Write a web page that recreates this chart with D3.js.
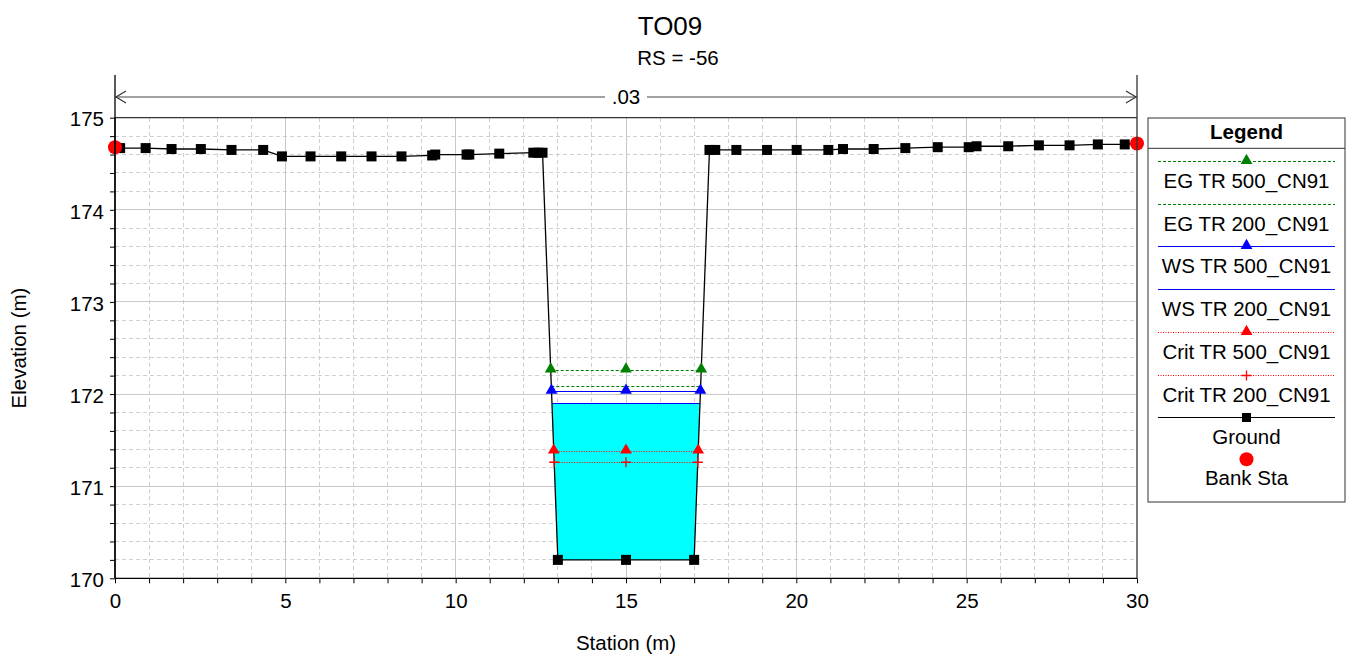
<!DOCTYPE html>
<html><head><meta charset="utf-8">
<script src="https://cdn.jsdelivr.net/npm/d3@7"></script>
<style>body{margin:0;background:#fff} svg{display:block} text{font-family:"Liberation Sans",Arial,sans-serif;fill:#000}</style>
</head><body><svg id="c" width="1351" height="663"></svg>
<script>
const title = "TO09";
const subtitle = "RS = -56";
const nLabel = ".03";
const xTickLabels = [0,5,10,15,20,25,30];
const yTickLabels = [170,171,172,173,174,175];
const groundStation = [0,0.15,0.9,1.66,2.52,3.42,4.35,4.9,5.74,6.64,7.53,8.41,9.31,9.4,10.32,10.4,11.28,12.28,12.42,12.55,13.0,15.0,17.0,17.45,17.62,18.24,19.14,20.01,20.94,21.37,22.27,23.2,24.15,25.06,25.29,26.22,27.12,28.02,28.85,29.64,30];
const groundElev    = [174.68,174.67,174.67,174.66,174.66,174.65,174.65,174.58,174.58,174.58,174.58,174.58,174.59,174.6,174.6,174.6,174.61,174.62,174.62,174.62,170.2,170.2,170.2,174.65,174.65,174.65,174.65,174.65,174.65,174.66,174.66,174.67,174.68,174.68,174.69,174.69,174.7,174.7,174.71,174.71,174.72,174.72];
const bankStations = [0,30];
const profileNames = ["EG TR 500_CN91","EG TR 200_CN91","WS TR 500_CN91","WS TR 200_CN91","Crit TR 500_CN91","Crit TR 200_CN91"];
const profileElev  = [172.26,172.09,172.03,171.90,171.38,171.26];
const profileKind  = ["eg","eg","ws","ws","crit","crit"];
const profileMarker= ["tri","none","tri","none","tri","plus"];

const svg = d3.select("#c");
const L=115, R=1137, T=117.7, B=578.3;
const x = d3.scaleLinear().domain([0,30]).range([L,R]);
const y = d3.scaleLinear().domain([170,175]).range([B,T]);
const FONT = 20.5;

const styleOf = {
  eg:{stroke:"#008000",dash:"3,2",w:1.1},
  ws:{stroke:"#0000ff",dash:null,w:1.2},
  crit:{stroke:"#ff0000",dash:"1,1.5",w:1.1}
};

// grid
const g = svg.append("g").attr("shape-rendering","crispEdges");
d3.range(0,31,1).forEach(v=>{
  if (v%5===0) return;
  g.append("line").attr("x1",x(v)).attr("x2",x(v)).attr("y1",T).attr("y2",B)
   .attr("stroke","#cfcfcf").attr("stroke-dasharray","4,3");
});
d3.range(170,175.001,0.2).forEach(v=>{
  const r = Math.round(v*10)/10;
  if (Math.abs(r-Math.round(r))<1e-6) return;
  g.append("line").attr("x1",L).attr("x2",R).attr("y1",y(r)).attr("y2",y(r))
   .attr("stroke","#cfcfcf").attr("stroke-dasharray","4,3");
});
[5,10,15,20,25].forEach(v=>{
  g.append("line").attr("x1",x(v)).attr("x2",x(v)).attr("y1",T).attr("y2",B).attr("stroke","#c8c8c8");
});
[171,172,173,174].forEach(v=>{
  g.append("line").attr("x1",L).attr("x2",R).attr("y1",y(v)).attr("y2",y(v)).attr("stroke","#c8c8c8");
});

// intersections
const minIdx = groundElev.indexOf(d3.min(groundElev));
function extents(level){
  let i=minIdx; while(i>0 && groundElev[i-1]<level) i--;
  const a=i-1, b=i;
  const xl = groundStation[a] + (level-groundElev[a])*(groundStation[b]-groundStation[a])/(groundElev[b]-groundElev[a]);
  let j=minIdx; while(j<groundElev.length-1 && groundElev[j+1]<level) j++;
  const c=j, d=j+1;
  const xr = groundStation[c] + (level-groundElev[c])*(groundStation[d]-groundStation[c])/(groundElev[d]-groundElev[c]);
  return {xl, xr, i, j};
}

// fill WS TR 200
const wsIdx = 3;
const e = extents(profileElev[wsIdx]);
const poly = [[e.xl,profileElev[wsIdx]]];
for(let k=e.i;k<=e.j;k++) poly.push([groundStation[k],groundElev[k]]);
poly.push([e.xr,profileElev[wsIdx]]);
svg.append("path").attr("d", d3.line().x(d=>x(d[0])).y(d=>y(d[1]))(poly)+"Z").attr("fill","#00ffff");

function drawMarker(sel, kind, cx, cy, color){
  if(kind==="tri"){
    sel.append("path").attr("d",d3.symbol(d3.symbolTriangle,60)()).attr("transform",`translate(${cx},${cy-1})`).attr("fill",color);
  } else if(kind==="plus"){
    sel.append("path").attr("d",`M${cx-5},${cy}H${cx+5}M${cx},${cy-5}V${cy+5}`).attr("stroke",color).attr("stroke-width",1.3);
  }
}
// profile lines
const pl = svg.append("g");
profileElev.forEach((lev,k)=>{
  const ex = extents(lev);
  const st = styleOf[profileKind[k]];
  pl.append("line").attr("x1",x(ex.xl)).attr("x2",x(ex.xr)).attr("y1",Math.round(y(lev))+0.5).attr("y2",Math.round(y(lev))+0.5)
    .attr("stroke",st.stroke).attr("stroke-width",st.w).attr("stroke-dasharray",st.dash);
});

// ground
svg.append("path").attr("d",d3.line().x((d,i)=>x(groundStation[i])).y((d,i)=>y(groundElev[i]))(groundElev))
  .attr("fill","none").attr("stroke","#000").attr("stroke-width",1.3);
groundStation.forEach((s,i)=>{
  svg.append("rect").attr("x",x(s)-5).attr("y",y(groundElev[i])-5).attr("width",10).attr("height",10).attr("fill","#000");
});

// profile markers
const pg = svg.append("g");
profileElev.forEach((lev,k)=>{
  const ex = extents(lev);
  const st = styleOf[profileKind[k]];
  [ex.xl,(ex.xl+ex.xr)/2,ex.xr].forEach(s=>drawMarker(pg, profileMarker[k], x(s), y(lev), st.stroke));
});

// bank stations
bankStations.forEach(s=>{
  const i = groundStation.indexOf(s);
  svg.append("circle").attr("cx",x(s)).attr("cy",y(groundElev[i])).attr("r",7).attr("fill","#ff0000");
});

// frame
svg.append("line").attr("x1",L).attr("x2",R).attr("y1",T).attr("y2",T).attr("stroke","#333").attr("stroke-width",1.3);
svg.append("line").attr("x1",L).attr("x2",L).attr("y1",75).attr("y2",B).attr("stroke","#000").attr("stroke-width",1.3);
svg.append("line").attr("x1",R).attr("x2",R).attr("y1",75).attr("y2",B).attr("stroke","#333").attr("stroke-width",1.3);

// axes
const xAxis = d3.axisBottom(x).tickValues(d3.range(0,31,1)).tickSize(5).tickFormat(d=>xTickLabels.includes(d)?d:"");
const xa = svg.append("g").attr("transform",`translate(0,${B})`).call(xAxis);
xa.select(".domain").attr("stroke","#000").attr("stroke-width",1.3).attr("d",`M${L},0H${R}`);
xa.selectAll("text").attr("font-size",FONT).attr("y",30).attr("dy",null).attr("font-family","Liberation Sans, Arial");
const yAxis = d3.axisLeft(y).tickValues(d3.range(0,26).map(i=>170+i*0.2)).tickSize(5)
  .tickFormat(d=>{const r=Math.round(d*10)/10; return yTickLabels.includes(r)?r:"";});
const ya = svg.append("g").attr("transform",`translate(${L},0)`).call(yAxis);
ya.select(".domain").attr("stroke","#000").attr("stroke-width",1.3).attr("d",`M0,${T}V${B}`);
ya.selectAll("text").attr("font-size",FONT).attr("x",-11).attr("dy","0.4em").attr("font-family","Liberation Sans, Arial");

svg.append("text").attr("x",(L+R)/2).attr("y",650).attr("text-anchor","middle").attr("font-size",FONT).text("Station (m)");
svg.append("text").attr("transform",`translate(26,${(T+B)/2}) rotate(-90)`).attr("text-anchor","middle").attr("font-size",FONT).text("Elevation (m)");

// titles
svg.append("text").attr("x",670).attr("y",35).attr("text-anchor","middle").attr("font-size",26).text(title);
svg.append("text").attr("x",678).attr("y",65).attr("text-anchor","middle").attr("font-size",FONT).text(subtitle);

// n-value arrow
const nx = x(15);
svg.append("text").attr("x",nx).attr("y",104).attr("text-anchor","middle").attr("font-size",FONT).text(nLabel);
svg.append("line").attr("x1",L).attr("x2",nx-21).attr("y1",97).attr("y2",97).attr("stroke","#444");
svg.append("line").attr("x1",nx+21).attr("x2",R).attr("y1",97).attr("y2",97).attr("stroke","#444");
svg.append("path").attr("d",`M${L+11},91L${L+1},97L${L+11},103`).attr("fill","none").attr("stroke","#333").attr("stroke-width",1.2);
svg.append("path").attr("d",`M${R-11},91L${R-1},97L${R-11},103`).attr("fill","none").attr("stroke","#333").attr("stroke-width",1.2);

// legend
const lg = svg.append("g");
const LX0=1148, LX1=1345, LY0=118, LY1=502;
lg.append("rect").attr("x",LX0).attr("y",LY0).attr("width",LX1-LX0).attr("height",LY1-LY0).attr("fill","#fff").attr("stroke","#333");
lg.append("line").attr("x1",LX0).attr("x2",LX1).attr("y1",148.3).attr("y2",148.3).attr("stroke","#333");
lg.append("text").attr("x",(LX0+LX1)/2).attr("y",138.5).attr("text-anchor","middle").attr("font-size",FONT).attr("font-weight","bold").text("Legend");
const cx = 1246.5;
const step = 42.8;
profileNames.forEach((nm,k)=>{
  const ly = Math.round(160.7 + k*step)+0.5;
  const st = styleOf[profileKind[k]];
  lg.append("line").attr("x1",1158).attr("x2",1335).attr("y1",ly).attr("y2",ly)
    .attr("stroke",st.stroke).attr("stroke-width",st.w).attr("stroke-dasharray",st.dash);
  drawMarker(lg, profileMarker[k], cx, ly, st.stroke);
  lg.append("text").attr("x",cx).attr("y",ly+26.5).attr("text-anchor","middle").attr("font-size",FONT).text(nm);
});
const gy = 160.7 + 6*step;
lg.append("line").attr("x1",1158).attr("x2",1335).attr("y1",gy).attr("y2",gy).attr("stroke","#000").attr("stroke-width",1.2);
lg.append("rect").attr("x",cx-4.5).attr("y",gy-4.5).attr("width",9).attr("height",9).attr("fill","#000");
lg.append("text").attr("x",cx).attr("y",gy+26).attr("text-anchor","middle").attr("font-size",FONT).text("Ground");
const by = 160.7 + 7*step;
lg.append("circle").attr("cx",cx).attr("cy",by-1).attr("r",7).attr("fill","#ff0000");
lg.append("text").attr("x",cx).attr("y",by+25).attr("text-anchor","middle").attr("font-size",FONT).text("Bank Sta");
</script></body></html>
